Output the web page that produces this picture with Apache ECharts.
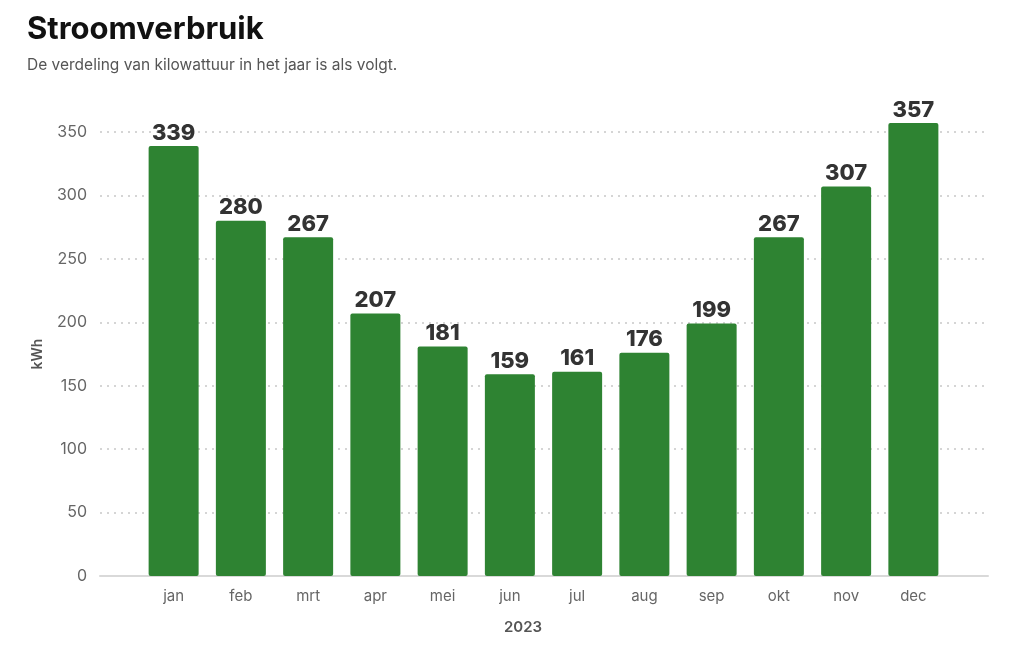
<!DOCTYPE html>
<html>
<head>
<meta charset="utf-8">
<script src="https://cdn.jsdelivr.net/npm/echarts@6/dist/echarts.min.js"></script>
<style>
  html, body { margin: 0; padding: 0; background: #fff; }
  #chart { width: 1012px; height: 661px; }
</style>
</head>
<body>
<div id="chart"></div>
<script>
// data
const months = ["jan", "feb", "mrt", "apr", "mei", "jun", "jul", "aug", "sep", "okt", "nov", "dec"];
const kwh = [339, 280, 267, 207, 181, 159, 161, 176, 199, 267, 307, 357];
const yMax = 350;
const yStep = 50;

const font = "Inter, 'Noto Sans', sans-serif";
const chart = echarts.init(document.getElementById("chart"));

const option = {
  animation: false,
  title: {
    text: "Stroomverbruik",
    subtext: "De verdeling van kilowattuur in het jaar is als volgt.",
    left: 22,
    top: 9,
    itemGap: 12,
    textStyle: { fontFamily: font, fontSize: 31, fontWeight: 700, color: "#111" },
    subtextStyle: { fontFamily: font, fontSize: 15.5, color: "#555" },
  },
  grid: [
    // wide grid: y axis, gridlines, base line
    { left: 100, right: 24, top: 132, bottom: 85 },
    // narrow grid: the bars
    { left: 140, right: 65, top: 132, bottom: 85 },
  ],
  xAxis: [
    {
      gridIndex: 0,
      type: "value",
      min: 0,
      max: 1,
      axisLine: { show: true, lineStyle: { color: "#d9d9d9", width: 2 } },
      axisTick: { show: false },
      axisLabel: { show: false },
      splitLine: { show: false },
      name: "2023",
      nameLocation: "middle",
      nameGap: 44,
      nameTextStyle: {
        fontFamily: font, fontSize: 15, fontWeight: 600, color: "#555",
        padding: [0, 42, 0, 0],
      },
    },
    {
      gridIndex: 1,
      type: "category",
      data: months,
      axisLine: { show: false },
      axisTick: { show: false },
      axisLabel: { fontFamily: font, fontSize: 15, color: "#666", margin: 13 },
    },
  ],
  yAxis: [
    {
      gridIndex: 0,
      type: "value",
      min: 0,
      max: yMax,
      interval: yStep,
      name: "kWh",
      nameLocation: "middle",
      nameGap: 55,
      nameTextStyle: { fontFamily: font, fontSize: 14, fontWeight: 600, color: "#555" },
      axisLine: { show: false },
      axisTick: { show: false },
      axisLabel: { fontFamily: font, fontSize: 16, color: "#666", margin: 13 },
      splitLine: { lineStyle: { color: "#c8c8c8", type: [2, 5], width: 1.5 } },
    },
    {
      gridIndex: 1,
      type: "value",
      min: 0,
      max: yMax,
      interval: yStep,
      show: false,
      splitLine: { show: false },
    },
  ],
  series: [
    {
      type: "bar",
      xAxisIndex: 1,
      yAxisIndex: 1,
      data: kwh,
      clip: false,
      barWidth: 50,
      itemStyle: { color: "#2e8332", borderRadius: 2 },
      label: {
        show: true,
        position: "top",
        distance: 2,
        fontFamily: font,
        fontSize: 22,
        fontWeight: 800,
        color: "#333",
      },
    },
  ],
};

chart.setOption(option);
</script>
</body>
</html>
